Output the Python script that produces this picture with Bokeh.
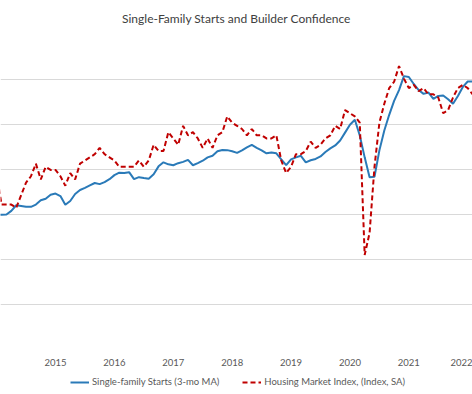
from bokeh.plotting import figure
from bokeh.layouts import column
from bokeh.models import (Range1d, FixedTicker, Legend, LegendItem, Title,
                          NumeralTickFormatter)
from bokeh.embed import file_html
from bokeh.resources import INLINE

# ---- data (monthly, starting January 2014) ----
first_year = 2014
# Single-family starts, 3-month moving average (thousands, SAAR), left axis
sf_starts = [
    599, 599, 600, 616, 641, 638, 634, 634, 644, 663, 670, 688,      # 2014
    693, 682, 643, 660, 691, 709, 718, 729, 740, 735, 744, 757,      # 2015
    775, 786, 784, 788, 757, 766, 762, 759, 779, 814, 832, 823,      # 2016
    819, 828, 834, 843, 819, 828, 839, 854, 861, 881, 887, 886,      # 2017
    881, 874, 885, 898, 909, 896, 885, 872, 876, 872, 845, 819,      # 2018
    845, 854, 861, 832, 841, 847, 858, 878, 894, 907, 929, 964,      # 2019
    999, 1021, 951, 854, 766, 768, 885, 973, 1043, 1105, 1153, 1215,  # 2020
    1211, 1180, 1153, 1136, 1142, 1114, 1127, 1129, 1112, 1092, 1127, 1167,  # 2021
    1191, 1191,                                                      # 2022
]
# NAHB/Wells Fargo Housing Market Index (index, SA), right axis
hmi = [
    56, 46, 46, 46, 45, 49, 53, 55, 59, 54, 58, 57,   # 2014
    57, 55, 52, 56, 54, 59, 60, 61, 62, 64, 62, 61,   # 2015
    60, 58, 58, 58, 58, 60, 58, 60, 65, 63, 63, 69,   # 2016
    67, 65, 71, 68, 69, 67, 64, 67, 64, 68, 69, 74,   # 2017
    72, 71, 70, 68, 70, 68, 68, 67, 67, 68, 60, 56,   # 2018
    58, 62, 62, 63, 66, 64, 65, 67, 68, 71, 70, 76,   # 2019
    75, 74, 72, 30, 37, 58, 72, 78, 83, 85, 90, 86,   # 2020
    83, 84, 82, 83, 81, 81, 80, 75, 76, 80, 83, 84,   # 2021
    83, 81,                                           # 2022
]
year_ticks = [2014, 2015, 2016, 2017, 2018, 2019, 2020, 2021, 2022]
starts_ticks = [0, 200, 400, 600, 800, 1000, 1200, 1400]
hmi_limits = (0, 100)

title_text = "Single-Family Starts and Builder Confidence"
label_starts = "Single-family Starts (3-mo MA)"
label_hmi = "Housing Market Index, (Index, SA)"

x_starts = [first_year + i / 12 for i in range(len(sf_starts))]
x_hmi = [first_year + i / 12 for i in range(len(hmi))]

FONT = "Lato"
GRID = "#d9d9d9"
TXT = "#595959"
BLUE = "#2a7ab8"
RED = "#c00000"

# ---- main chart ----
p = figure(width=472, height=370,
           output_backend="svg", toolbar_location=None,
           x_range=Range1d(2014.066, 2022.081),
           y_range=Range1d(starts_ticks[0], starts_ticks[-1]),
           min_border_left=0, min_border_right=0,
           min_border_top=31, min_border_bottom=21)
p.outline_line_color = None
p.background_fill_color = "white"
p.border_fill_color = "white"

p.extra_y_ranges = {"hmi": Range1d(*hmi_limits)}

p.xgrid.visible = False
ya = p.yaxis[0]
ya.ticker = FixedTicker(ticks=starts_ticks)
ya.visible = False
p.ygrid.grid_line_color = GRID
p.ygrid.grid_line_width = 1

xa = p.xaxis[0]
xa.ticker = FixedTicker(ticks=year_ticks)
xa.formatter = NumeralTickFormatter(format="0")
xa.axis_line_color = None
xa.major_tick_line_color = None
xa.minor_tick_line_color = None
xa.major_tick_out = 0
xa.major_tick_in = 0
xa.minor_tick_out = 0
xa.major_label_standoff = 9
xa.major_label_text_font = FONT
xa.major_label_text_font_size = "9.5px"
xa.major_label_text_color = TXT

p.line(x_starts, sf_starts, line_color=BLUE, line_width=2)
p.line(x_hmi, hmi, y_range_name="hmi", line_color=RED,
       line_width=2, line_dash="5 3")

p.title = Title(text=title_text, align="center", text_font=FONT,
                text_font_size="12px", text_font_style="normal",
                text_color="#404040", standoff=17)

# ---- legend strip below the chart ----
lg = figure(width=472, height=24, output_backend="svg", toolbar_location=None,
            x_range=Range1d(0, 1), y_range=Range1d(0, 1),
            x_axis_location=None, y_axis_location=None,
            min_border_left=0, min_border_right=0,
            min_border_top=0, min_border_bottom=0)
lg.outline_line_color = None
lg.xgrid.visible = False
lg.ygrid.visible = False
# legend keys: same series, lying outside this strip's ranges (only the keys show)
k1 = lg.line(x_starts, sf_starts, line_color=BLUE, line_width=2)
k2 = lg.line(x_hmi, hmi, line_color=RED, line_width=2, line_dash="5 3")

legend = Legend(items=[LegendItem(label=label_starts, renderers=[k1]),
                       LegendItem(label=label_hmi, renderers=[k2])],
                orientation="horizontal", location=(70, 7),
                glyph_width=19, glyph_height=10, label_height=10,
                label_standoff=3, spacing=23,
                padding=0, margin=0, border_line_color=None,
                background_fill_alpha=0,
                label_text_font=FONT, label_text_font_size="9.5px",
                label_text_color=TXT)
lg.add_layout(legend)

layout = column(p, lg, spacing=0)
open("out.html", "w").write(file_html(layout, INLINE))
